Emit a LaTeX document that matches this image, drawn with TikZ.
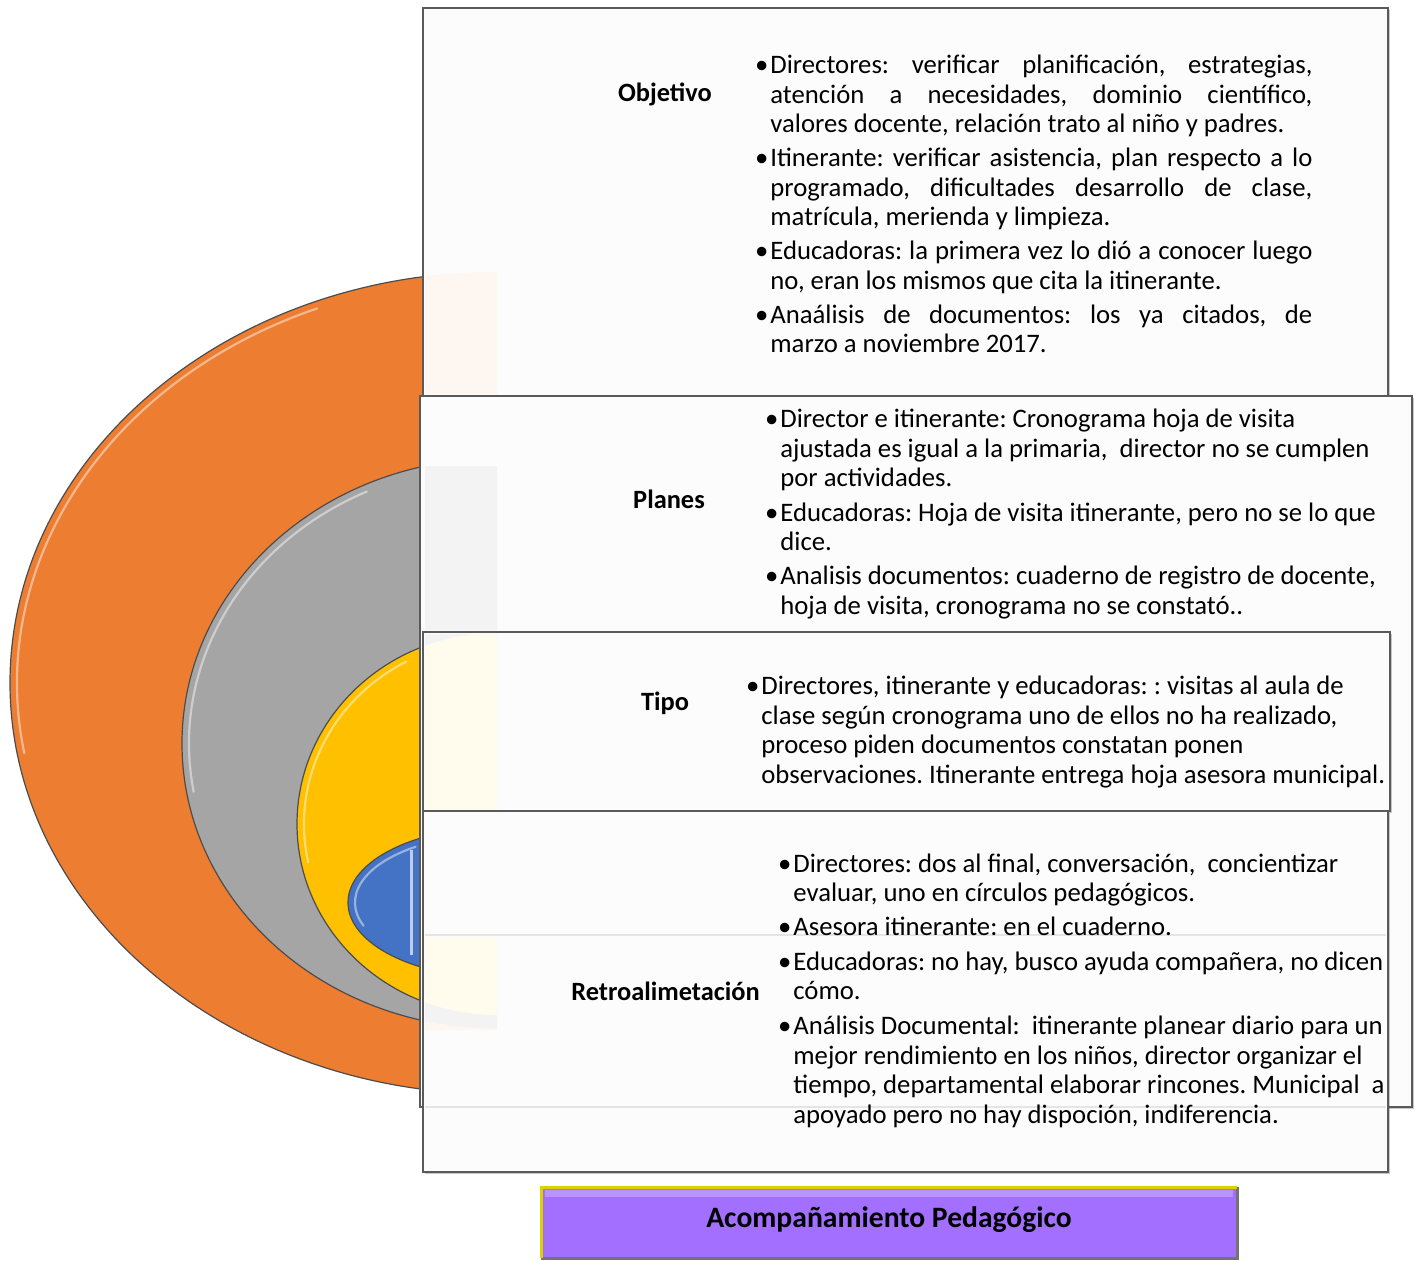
\documentclass[tikz,border=0pt]{standalone}
\usepackage{fontspec}
\setmainfont{Carlito}
\usetikzlibrary{shadows,calc}
\definecolor{corange}{HTML}{ED7D31}
\definecolor{cgray}{HTML}{A5A5A5}
\definecolor{cyellow}{HTML}{FFC000}
\definecolor{cblue}{HTML}{4472C4}
\definecolor{cpurple}{HTML}{A26FFF}
\definecolor{boxfill}{HTML}{FCFCFC}
\definecolor{boxline}{HTML}{5A5A5A}
\begin{document}
\frenchspacing
\begin{tikzpicture}[x=0.5pt,y=-0.5pt,
  ring/.style={draw=black!70, line width=0.6pt},
  gloss/.style={draw=white, opacity=0.45, line width=1.1pt, line cap=round},
  panel/.style={draw=boxline, line width=1.2pt, fill=boxfill,
     drop shadow={shadow xshift=1.2pt, shadow yshift=-1.2pt, opacity=0.3, fill=black!70}},
  bodytext/.style={anchor=north west, inner sep=0pt, align=left,
     font=\fontsize{13.35}{14.75}\selectfont\frenchspacing},
  labeltext/.style={anchor=base, inner sep=0pt,
     font=\fontsize{13.2}{14.75}\selectfont\bfseries},
  titletext/.style={anchor=base, inner sep=0pt,
     font=\fontsize{14.8}{16}\selectfont\bfseries},
  faint/.style={draw=black!10, line width=1pt}]
\useasboundingbox (0,0) rectangle (1415,1260);
\fill[white] (0,0) rectangle (1415,1260);

% nested half ellipses
\begin{scope}
  \clip (0,0) rectangle (497,1260);
  \draw[ring, fill=corange] (497,683) ellipse [x radius=243.5pt, y radius=205.5pt];
  \draw[gloss] ($(497,683)+(112:240pt and 202pt)$) arc[start angle=112, end angle=190, x radius=240pt, y radius=202pt];
  \draw[ring, fill=cgray] (497,743.5) ellipse [x radius=157.5pt, y radius=142.5pt];
  \draw[gloss] ($(497,743.5)+(115:154pt and 139pt)$) arc[start angle=115, end angle=190, x radius=154pt, y radius=139pt];
  \draw[ring, fill=cyellow] (497,824) ellipse [x radius=100pt, y radius=95.5pt];
  \draw[gloss] ($(497,824)+(118:96.5pt and 92pt)$) arc[start angle=118, end angle=192, x radius=96.5pt, y radius=92pt];
  \draw[ring, fill=cblue] (497,902.5) ellipse [x radius=74.5pt, y radius=37.5pt];
  \draw[gloss] ($(497,902.5)+(125:71pt and 34pt)$) arc[start angle=125, end angle=200, x radius=71pt, y radius=34pt];
  \draw[draw=cblue!35, line width=1.5pt] (411,850) -- (411,955);
\end{scope}

% panels
\draw[panel] (423,8) rectangle (1388,935);
\draw[panel] (420,396) rectangle (1412,1107);
\draw[panel] (423,632) rectangle (1390,811);
\draw[panel] (423,811) rectangle (1388,1172);
\draw[faint] (425,935) -- (1386,935);
\draw[faint] (425,1107) -- (1386,1107);

% faint tints of the rings seen through the panels
\begin{scope}
  \clip (425,272) rectangle (497,394) (425,466) rectangle (497,630) (425,634) rectangle (497,809) (425,937) rectangle (497,1030);
  \fill[corange!7!white] (497,683) ellipse [x radius=243.5pt, y radius=205.5pt];
  \fill[cgray!14!white] (497,743.5) ellipse [x radius=157.5pt, y radius=142.5pt];
  \fill[cyellow!7!white] (497,824) ellipse [x radius=100pt, y radius=95.5pt];
\end{scope}

% labels
\node[labeltext] (lobj) at (665,101.5) {Objetivo};
\node[labeltext] (lplan) at (669,508.5) {Planes};
\node[labeltext] (ltipo) at (665,710.5) {Tipo};
\node[labeltext] (lretro) at (665.5,1000.5) {Retroalimetación};

% texts
\node[bodytext] (tobj) at (770,52.5) {\strut\llap{•\kern1pt}\makebox[271pt][s]{Directores: verificar planificación, estrategias,}\\
\makebox[271pt][s]{atención a necesidades, dominio científico,}\\
valores docente, relación trato al niño y padres.\\[2.25pt]
\llap{•\kern1pt}\makebox[271pt][s]{Itinerante: verificar asistencia, plan respecto a lo}\\
\makebox[271pt][s]{programado, dificultades desarrollo de clase,}\\
matrícula, merienda y limpieza.\\[2.25pt]
\llap{•\kern1pt}\makebox[271pt][s]{Educadoras: la primera vez lo dió a conocer luego}\\
no, eran los mismos que cita la itinerante.\\[2.25pt]
\llap{•\kern1pt}\makebox[271pt][s]{Anaálisis de documentos: los ya citados, de}\\
marzo a noviembre 2017.};

\node[bodytext] (tplan) at (780,406.5) {\strut\llap{•\kern1pt}Director e itinerante: Cronograma hoja de visita\\
ajustada es igual a la primaria,\ \ director no se cumplen\\
por actividades.\\[2.6pt]
\llap{•\kern1pt}Educadoras: Hoja de visita itinerante, pero no se lo que\\
dice.\\[2.3pt]
\llap{•\kern1pt}Analisis documentos: cuaderno de registro de docente,\\
hoja de visita, cronograma no se constató..};

\node[bodytext] (ttipo) at (761,673.5) {\strut\llap{•\kern1pt}Directores, itinerante y educadoras: : visitas al aula de\\
clase según cronograma uno de ellos no ha realizado,\\
proceso piden documentos constatan ponen\\
observaciones. Itinerante entrega hoja asesora municipal.};

\node[bodytext] (tretro) at (793,851) {\strut\llap{•\kern1pt}Directores: dos al final, conversación,\ \ concientizar\\
evaluar, uno en círculos pedagógicos.\\[2.3pt]
\llap{•\kern1pt}Asesora itinerante: en el cuaderno.\\[2.6pt]
\llap{•\kern1pt}Educadoras: no hay, busco ayuda compañera, no dicen\\
cómo.\\[2.6pt]
\llap{•\kern1pt}Análisis Documental:\ \ itinerante planear diario para un\\
mejor rendimiento en los niños, director organizar el\\
tiempo, departamental elaborar rincones. Municipal\ \ a\\
apoyado pero no hay dispoción, indiferencia.};

% bottom title bar
\fill[cpurple] (541,1187) rectangle (1237,1258);
\fill[white, opacity=0.25] (545,1190) rectangle (1233,1197);
\draw[draw=black!55, line width=1.5pt] (1237,1187) -- (1237,1258) -- (541,1258);
\draw[draw=yellow!70!olive, line width=1.5pt] (541,1258) -- (541,1187) -- (1237,1187);
\node[titletext] (title) at (889,1227.5) {Acompañamiento Pedagógico};
\end{tikzpicture}
\end{document}
